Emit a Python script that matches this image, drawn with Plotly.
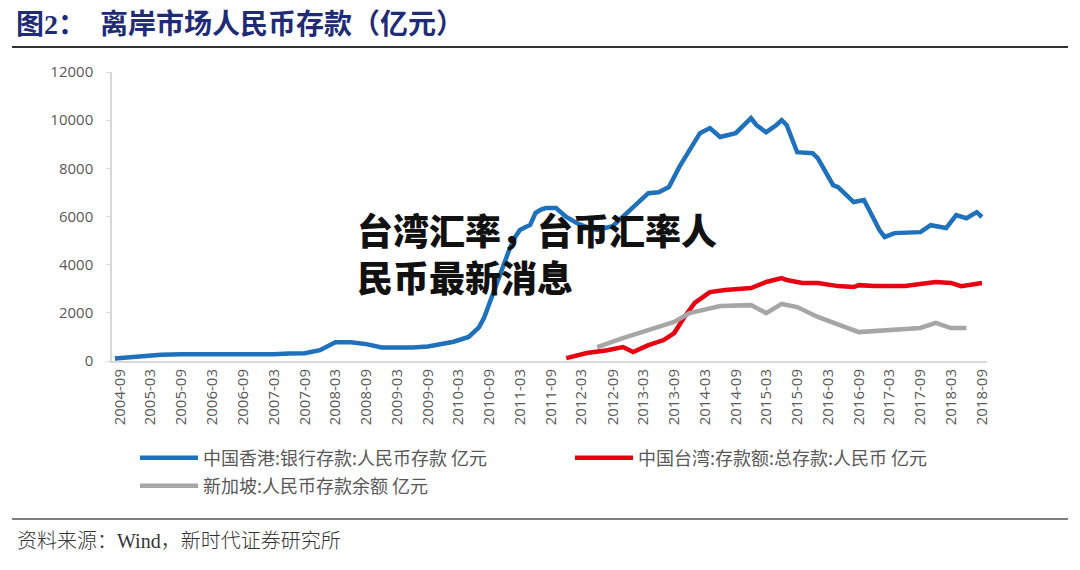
import plotly.graph_objects as go

# ---- data (亿元) ----
hk_dates = ["2004-08", "2004-11", "2005-02", "2005-05", "2005-09", "2006-03", "2006-09", "2007-03",
            "2007-06", "2007-09", "2007-12", "2008-02", "2008-03", "2008-06", "2008-09", "2008-12",
            "2009-03", "2009-06", "2009-09", "2009-11", "2010-02", "2010-05", "2010-07", "2010-08",
            "2010-09", "2010-10", "2010-11", "2010-12", "2011-01", "2011-02", "2011-03", "2011-04",
            "2011-05", "2011-06", "2011-07", "2011-08", "2011-10", "2011-12",
            "2012-02", "2012-04", "2012-06", "2012-09", "2012-11", "2013-01", "2013-03", "2013-04",
            "2013-06", "2013-08", "2013-10", "2013-12", "2014-02", "2014-04", "2014-05", "2014-06",
            "2014-09", "2014-12", "2015-01", "2015-03", "2015-05", "2015-06", "2015-07", "2015-08",
            "2015-09", "2015-12", "2016-01", "2016-04", "2016-05", "2016-08", "2016-10", "2016-11",
            "2017-01", "2017-02", "2017-04", "2017-09", "2017-11", "2018-02", "2018-04", "2018-06",
            "2018-08", "2018-09"]
hk_vals = [100, 150, 220, 260, 280, 270, 270, 280,
           310, 320, 450, 650, 780, 780, 700, 560,
           540, 560, 600, 680, 800, 1000, 1400, 1800,
           2400, 2950, 3500, 4100, 4700, 5150, 5440, 5550,
           5650, 6140, 6280, 6350, 6350, 5980,
           5730, 5560, 5440, 5600, 6000, 6400, 6800, 6970,
           7010, 7220, 8050, 8760, 9460, 9670, 9500, 9300,
           9460, 10080, 9800, 9500, 9800, 10000, 9790, 9200,
           8670, 8630, 8420, 7300, 7220, 6600, 6680, 6270,
           5440, 5150, 5310, 5350, 5640, 5520, 6060, 5930,
           6180, 5980]

tw_dates = ["2011-12", "2012-04", "2012-08", "2012-11", "2013-01", "2013-04", "2013-07", "2013-09",
            "2013-11", "2014-01", "2014-04", "2014-07", "2014-12", "2015-03", "2015-06", "2015-07",
            "2015-10", "2016-01", "2016-05", "2016-08", "2016-09", "2016-12", "2017-06", "2017-09",
            "2017-12", "2018-03", "2018-05", "2018-09"]
tw_vals = [120, 330, 450, 580, 370, 660, 870, 1160,
           1830, 2410, 2860, 2950, 3030, 3280, 3440, 3360,
           3240, 3240, 3110, 3070, 3150, 3110, 3110, 3200,
           3280, 3240, 3110, 3240]

sg_dates = ["2012-06", "2012-11", "2013-09", "2013-12", "2014-06", "2014-12", "2015-03", "2015-06",
            "2015-09", "2016-01", "2016-09", "2017-03", "2017-06", "2017-09", "2017-12", "2018-03",
            "2018-06"]
sg_vals = [580, 950, 1620, 1990, 2280, 2320, 1990, 2370,
           2240, 1830, 1200, 1290, 1370, 1370, 1580, 1370,
           1370]

tick_labels = ["2004-09", "2005-03", "2005-09", "2006-03", "2006-09", "2007-03", "2007-09",
               "2008-03", "2008-09", "2009-03", "2009-09", "2010-03", "2010-09", "2011-03",
               "2011-09", "2012-03", "2012-09", "2013-03", "2013-09", "2014-03", "2014-09",
               "2015-03", "2015-09", "2016-03", "2016-09", "2017-03", "2017-09", "2018-03",
               "2018-09"]

series_names = ["中国香港:银行存款:人民币存款 亿元", "中国台湾:存款额:总存款:人民币 亿元",
                "新加坡:人民币存款余额 亿元"]

title_text = "图2：  离岸市场人民币存款（亿元）"
source_text = "资料来源：Wind，新时代证券研究所"
overlay_lines = ["台湾汇率，台币汇率人", "民币最新消息"]

# ---- figure ----
W, H = 1080, 570
L, R, T, B = 112, 93, 72, 209
pw, ph = W - L - R, H - T - B


def px(xp):
    return (xp - L) / pw


def py(yp):
    return (H - B - yp) / ph


fig = go.Figure()
fig.add_trace(go.Scatter(x=hk_dates, y=hk_vals, mode="lines", name=series_names[0],
                         line=dict(color="#1E71BA", width=4.5), legend="legend"))
fig.add_trace(go.Scatter(x=tw_dates, y=tw_vals, mode="lines", name=series_names[1],
                         line=dict(color="#E60012", width=4.5), legend="legend2"))
fig.add_trace(go.Scatter(x=sg_dates, y=sg_vals, mode="lines", name=series_names[2],
                         line=dict(color="#A6A6A6", width=4.5), legend="legend3"))

tick_font = dict(family="Open Sans, Noto Sans", size=15, color="#595959")
legend_font = dict(family="Noto Sans CJK SC", size=18, color="#595959")


def leg(xp, yp):
    return dict(orientation="h", xref="container", yref="container",
                x=xp / W, y=1 - yp / H, xanchor="left", yanchor="middle",
                font=legend_font, itemwidth=58, bgcolor="rgba(0,0,0,0)")


fig.update_layout(
    width=W, height=H, autosize=False,
    margin=dict(l=L, r=R, t=T, b=B, autoexpand=False),
    paper_bgcolor="white", plot_bgcolor="white",
    showlegend=True,
    xaxis=dict(type="date", range=["2004-07-15", "2018-10-01"],
               tickvals=tick_labels, ticktext=tick_labels, tickangle=-90,
               tickfont=tick_font, showgrid=False, zeroline=False, automargin=False,
               showline=True, linecolor="#D9D9D9", linewidth=2, ticks=""),
    yaxis=dict(range=[0, 12000], dtick=2000, tickformat="d", tickfont=tick_font,
               showgrid=False, zeroline=False, showline=True, linecolor="#D9D9D9",
               linewidth=1.5, ticks="outside", ticklen=4, tickcolor="#D9D9D9",
               ticklabelstandoff=10, automargin=False),
    legend=leg(135, 458),
    legend2=leg(570, 458),
    legend3=leg(135, 486),
)

fig.add_annotation(text=title_text, xref="paper", yref="paper", x=px(14), y=py(25),
                   xanchor="left", yanchor="middle", showarrow=False,
                   font=dict(family="Liberation Serif, Noto Sans CJK SC", size=28,
                             color="#1F2C75", weight="bold"))
fig.add_annotation(text=source_text, xref="paper", yref="paper", x=px(15), y=py(541),
                   xanchor="left", yanchor="middle", showarrow=False,
                   font=dict(family="Liberation Serif, Noto Sans CJK SC", size=20,
                             color="#333333", weight=300))
for line_text, yc in zip(overlay_lines, [229, 276]):
    fig.add_annotation(text=line_text, xref="paper", yref="paper", x=px(355), y=py(yc),
                       xanchor="left", yanchor="middle", align="left", showarrow=False,
                       font=dict(family="Noto Sans CJK SC", size=36, color="#111111",
                                 weight=900))

fig.add_shape(type="line", xref="paper", yref="paper", x0=px(12), x1=px(1068),
              y0=py(47), y1=py(47), line=dict(color="#333333", width=2))
fig.add_shape(type="line", xref="paper", yref="paper", x0=px(12), x1=px(1068),
              y0=py(519), y1=py(519), line=dict(color="#555555", width=1.5))

fig.write_html("out.html", config={"displayModeBar": False},
               post_script="document.body.style.margin='0';")
